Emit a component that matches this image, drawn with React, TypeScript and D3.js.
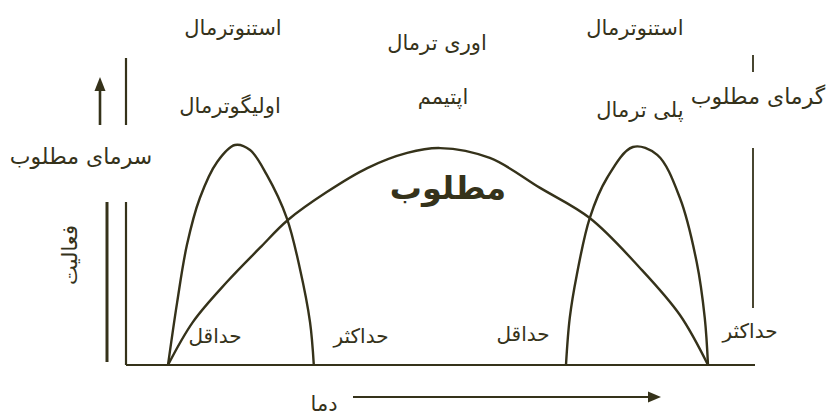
import React, { useRef, useEffect } from "react";
import * as d3 from "d3";

// temperature (0 = min, 100 = max of the wide curve) and activity (0..100)
const oligoTemp = [0, 1.7, 3.5, 5.9, 9.1, 12.4, 15.2, 18.3, 22.0, 24.4, 26.3, 27.0];
const oligoAct = [0, 28.6, 54.5, 75.9, 92.3, 100, 97.7, 86.4, 66.8, 44.1, 19.5, 0];

const euryTemp = [0, 4.6, 10.9, 17.0, 22.2, 29.4, 36.9, 44.3, 50.4, 59.6, 68.9, 78.1, 87.4, 94.8, 100];
const euryAct = [0, 19.5, 37.7, 53.2, 65.9, 78.6, 89.5, 96.4, 98.6, 94.1, 80.5, 66.8, 44.1, 22.7, 0];

const polyTemp = [73.7, 74.4, 75.7, 78.1, 81.3, 86.1, 90.6, 94.8, 97.9, 99.4, 100];
const polyAct = [0, 21.4, 40.9, 66.8, 85.0, 99.1, 95.5, 75.9, 46.8, 21.4, 0];

const topLabels = ["استنوترمال", "اوری ترمال", "استنوترمال"];
const curveLabels = ["اولیگوترمال", "اپتیمم", "پلی ترمال"];
const sideLabels = ["سرمای مطلوب", "گرمای مطلوب"];
const limitLabels = ["حداقل", "حداکثر", "حداقل", "حداکثر"];
const optimumLabel = "مطلوب";
const xLabel = "دما";
const yLabel = "فعالیت";

const ink = "#35321a";
const font = "'DejaVu Sans', sans-serif";

const App = () => {
  const svgRef = useRef<SVGSVGElement>(null);

  useEffect(() => {
    const svg = d3.select(svgRef.current);
    svg.selectAll("*").remove();

    const x = d3.scaleLinear().domain([0, 100]).range([168, 708]);
    const y = d3.scaleLinear().domain([0, 100]).range([365, 145]);

    const line = d3
      .line<[number, number]>()
      .x((d) => x(d[0]))
      .y((d) => y(d[1]))
      .curve(d3.curveCatmullRom.alpha(0.5));

    const series = [
      d3.zip(oligoTemp, oligoAct),
      d3.zip(euryTemp, euryAct),
      d3.zip(polyTemp, polyAct),
    ] as [number, number][][];

    // frame lines
    const seg = (x1, y1, x2, y2, w = 2.2) =>
      svg
        .append("line")
        .attr("x1", x1)
        .attr("y1", y1)
        .attr("x2", x2)
        .attr("y2", y2)
        .attr("stroke", ink)
        .attr("stroke-width", w);

    seg(126, y(0), 755, y(0)); // baseline
    seg(126, 202, 126, y(0)); // activity axis
    seg(126, 58, 126, 125);
    seg(107, 202, 107, 362, 3);
    seg(753, 55, 753, 72, 1.8);
    seg(753, 148, 753, 308, 1.8);

    // arrows
    seg(100, 125, 100, 88, 2.6);
    svg.append("path").attr("d", "M100,77 L94.5,91 L105.5,91 Z").attr("fill", ink);
    seg(353, 397, 650, 397, 2);
    svg.append("path").attr("d", "M661,397 L648,391.5 L648,402.5 Z").attr("fill", ink);

    svg
      .append("g")
      .selectAll("path")
      .data(series)
      .join("path")
      .attr("d", (d) => line(d))
      .attr("fill", "none")
      .attr("stroke", ink)
      .attr("stroke-width", 2.4);

    const text = (s, cx, by, size, extra = {}) => {
      const t = svg
        .append("text")
        .attr("x", cx)
        .attr("y", by)
        .attr("text-anchor", "middle")
        .attr("font-family", font)
        .attr("font-size", size)
        .attr("fill", ink)
        .text(s);
      Object.entries(extra).forEach(([k, v]) => t.attr(k, v as string));
      return t;
    };

    const topPos = [[233, 35], [437, 50], [635, 35]];
    topLabels.forEach((s, i) => text(s, topPos[i][0], topPos[i][1], 21));

    const curvePos = [[230, 113], [443, 104], [640, 117]];
    curveLabels.forEach((s, i) => text(s, curvePos[i][0], curvePos[i][1], 21));

    const sidePos = [[81, 164], [758, 104]];
    sideLabels.forEach((s, i) => text(s, sidePos[i][0], sidePos[i][1], 22));

    const limitPos = [[215, 343], [361, 343], [523, 341], [750, 338]];
    limitLabels.forEach((s, i) => text(s, limitPos[i][0], limitPos[i][1], 20));

    text(optimumLabel, 448, 199, 32, { "font-weight": "bold" });
    text(xLabel, 324, 411, 21);
    text(yLabel, 0, 0, 21, { transform: "translate(77,255) rotate(-90)" });
  }, []);

  return (
    <svg
      ref={svgRef}
      width={830}
      height={418}
      style={{ position: "absolute", left: 0, top: 0, background: "#fff" }}
    />
  );
};

export default App;
